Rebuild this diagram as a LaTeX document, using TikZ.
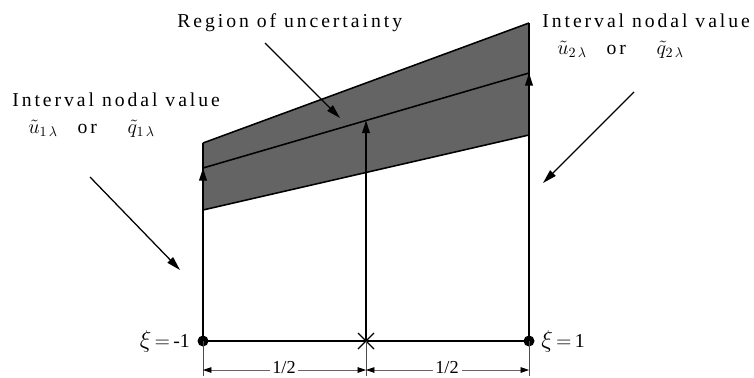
\documentclass[tikz,border=0pt]{standalone}
\usepackage{fontspec}
\setmainfont{Liberation Serif}
\newfontfamily\widefont[LetterSpace=15]{Liberation Serif}
\usepackage{tikz}
\usetikzlibrary{arrows.meta,calc,positioning}
\definecolor{bandgray}{RGB}{100,100,100}
\newcommand{\bigxi}{{\fontsize{17}{19}\selectfont$\xi$}}
\tikzset{
    % 主线
    mainline/.style={
        line width=1.1pt,
        black
    },
    % 竖向箭头
    valuearrow/.style={
        line width=1.1pt,
        black,
        -{Triangle[length=9pt, width=5.5pt]}
    },
    % 指示箭头
    pointarrow/.style={
        line width=0.9pt,
        black,
        -{Triangle[length=10pt, width=5.5pt]}
    },
    % 尺寸线
    dimline/.style={
        line width=0.5pt,
        black!60,
        {Triangle[length=6pt, width=4pt, color=black]}-{Triangle[length=6pt, width=4pt, color=black]}
    },
    labeltext/.style={
        font=\widefont\fontsize{14}{16}\selectfont,
        inner sep=0pt,
        anchor=base west
    },
    plaintext/.style={
        font=\fontsize{14}{16}\selectfont,
        inner sep=0pt
    }
}

\begin{document}
\begin{tikzpicture}[x=0.025cm,y=-0.025cm]
	\useasboundingbox (0,0) rectangle (754,377);
	
	\path 
	(203,341) coordinate (b1)
	(366,341) coordinate (bm)
	(529,341) coordinate (b2)
	
	(203,143) coordinate (t1)
	(529,23) coordinate (t2)
	(203,168) coordinate (m1)
	(529,73) coordinate (m2)
	(203,210) coordinate (d1)
	(529,135) coordinate (d2)
	
	(203,376) coordinate (e1)
	(366,376) coordinate (em)
	(529,376) coordinate (e2)
	(203,370) coordinate (s1)
	(366,370) coordinate (sm)
	(529,370) coordinate (s2);
	\coordinate (mm) at ($(m1)!0.5!(m2)$);
	
	% 灰色区域
	\fill[bandgray] (t1) -- (t2) -- (d2) -- (d1) -- cycle;
	\draw[mainline] (t1) -- (t2);
	\draw[mainline] (m1) -- (m2);
	\draw[mainline] (d1) -- (d2);
	
	% 竖线
	\draw[mainline] (b1) -- (t1);
	\draw[mainline] (b2) -- (t2);
	\draw[valuearrow] (b1) -- (m1);
	\draw[valuearrow] (bm) -- (mm);
	\draw[valuearrow] (b2) -- (m2);
	\draw[mainline] (b1) -- (b2);
	
	% 节点
	\fill (b1) circle (5.5);
	\fill (b2) circle (5.5);
	\draw[line width=0.9pt] ($(bm)+(-8,-8)$) -- ($(bm)+(8,8)$);
	\draw[line width=0.9pt] ($(bm)+(-8,8)$) -- ($(bm)+(8,-8)$);
	
	% 尺寸线
	\draw[line width=0.5pt,black!70] (b1) -- (e1);
	\draw[line width=0.5pt,black!70] (bm) -- (em);
	\draw[line width=0.5pt,black!70] (b2) -- (e2);
	\draw[dimline] (s1) -- (sm);
	\draw[dimline] (sm) -- (s2);
	\node[plaintext,font=\fontsize{13}{15}\selectfont,fill=white,inner xsep=2pt,text depth=0pt,anchor=base] (half1) at (284,373) {1/2};
	\node[plaintext,font=\fontsize{13}{15}\selectfont,fill=white,inner xsep=2pt,text depth=0pt,anchor=base] (half2) at (447,373) {1/2};
	
	% 文字标注
	\node[plaintext,anchor=base east] (xi1) at (190,347) {\bigxi\,$=$\,-1};
	\node[plaintext,anchor=base west] (xi2) at (541,347) {\bigxi\,$=$\,1};
	
	\node[labeltext] (region) at (177,27) {Region of uncertainty};
	\node[labeltext] (left1) at (12,106) {Interval nodal value};
	\node[labeltext] (left2) at (28,133) {$\tilde{u}_{1\,\lambda}$\quad or\quad\, $\tilde{q}_{1\,\lambda}$};
	\node[labeltext] (right1) at (542,27) {Interval nodal value};
	\node[labeltext] (right2) at (557,54) {$\tilde{u}_{2\,\lambda}$\quad or\quad\, $\tilde{q}_{2\,\lambda}$};
	
	% 指示箭头
	\coordinate (ra) at (265,43);
	\coordinate (rb) at (340,118);
	\coordinate (la) at (90,177);
	\coordinate (lb) at (180,270);
	\coordinate (qa) at (634,92);
	\coordinate (qb) at (543,183);
	\draw[pointarrow] (ra) -- (rb);
	\draw[pointarrow] (la) -- (lb);
	\draw[pointarrow] (qa) -- (qb);
\end{tikzpicture}
\end{document}
